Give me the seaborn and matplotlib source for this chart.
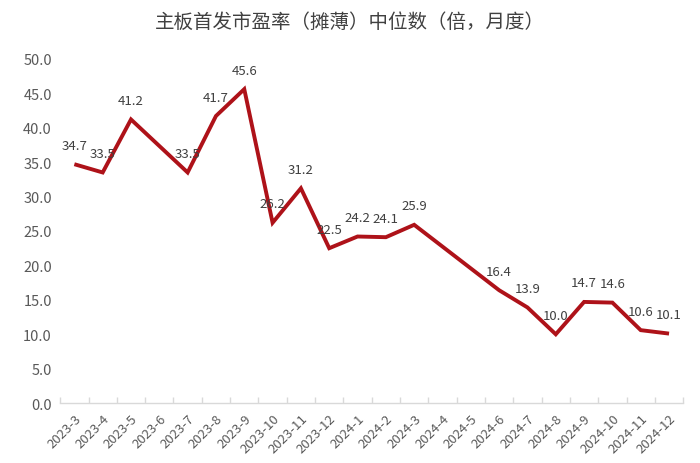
import numpy as np
import pandas as pd
import matplotlib
matplotlib.use("Agg")
import matplotlib.pyplot as plt
import seaborn as sns

months = ["2023-3", "2023-4", "2023-5", "2023-6", "2023-7", "2023-8", "2023-9",
          "2023-10", "2023-11", "2023-12", "2024-1", "2024-2", "2024-3", "2024-4",
          "2024-5", "2024-6", "2024-7", "2024-8", "2024-9", "2024-10", "2024-11",
          "2024-12"]
pe_median = [34.7, 33.5, 41.2, np.nan, 33.5, 41.7, 45.6, 26.2, 31.2, 22.5,
             24.2, 24.1, 25.9, np.nan, np.nan, 16.4, 13.9, 10.0, 14.7, 14.6,
             10.6, 10.1]
y_ticks = [0, 5, 10, 15, 20, 25, 30, 35, 40, 45, 50]
title = "主板首发市盈率（摊薄）中位数（倍，月度）"

sns.set_theme(style="white")
plt.rcParams["font.family"] = ["Noto Sans CJK SC", "DejaVu Sans"]

df = pd.DataFrame({"pos": np.arange(len(months)), "month": months, "value": pe_median})
df_valid = df.dropna()

fig, ax = plt.subplots(figsize=(7, 4.64), dpi=100)
fig.subplots_adjust(left=0.086, right=0.976, top=0.871, bottom=0.129)

sns.lineplot(data=df_valid, x="pos", y="value", ax=ax, color="#AE1219",
             linewidth=2.8, solid_joinstyle="miter", solid_capstyle="butt")

for p, v in zip(df_valid["pos"], df_valid["value"]):
    ax.annotate(f"{v:.1f}", (p, v), xytext=(0, 9), textcoords="offset points",
                ha="center", va="bottom", fontsize=9.5, color="#404040")

ax.set_xlim(-0.5, len(months) - 0.5)
ax.set_ylim(0, 50)
ax.set_yticks(y_ticks)
ax.set_yticklabels([f"{t:.1f}" for t in y_ticks], fontsize=10.5, color="#595959")
ax.set_xticks(df["pos"])
ax.set_xticklabels(months, rotation=45, ha="right", rotation_mode="anchor",
                   fontsize=9.5, color="#595959")
ax.set_xticks(np.arange(-0.5, len(months), 1.0), minor=True)
ax.tick_params(axis="x", which="major", length=0, pad=6)
ax.tick_params(axis="x", which="minor", length=4, color="#D9D9D9", direction="in", bottom=True)
ax.tick_params(axis="y", length=0, pad=6)
ax.set_xlabel("")
ax.set_ylabel("")
for s in ["top", "right", "left"]:
    ax.spines[s].set_visible(False)
ax.spines["bottom"].set_color("#D9D9D9")
ax.spines["bottom"].set_linewidth(1.0)
ax.grid(False)

fig.suptitle(title, x=0.5, y=0.975, fontsize=14, color="#404040")

fig.savefig("out.png", dpi=100)
